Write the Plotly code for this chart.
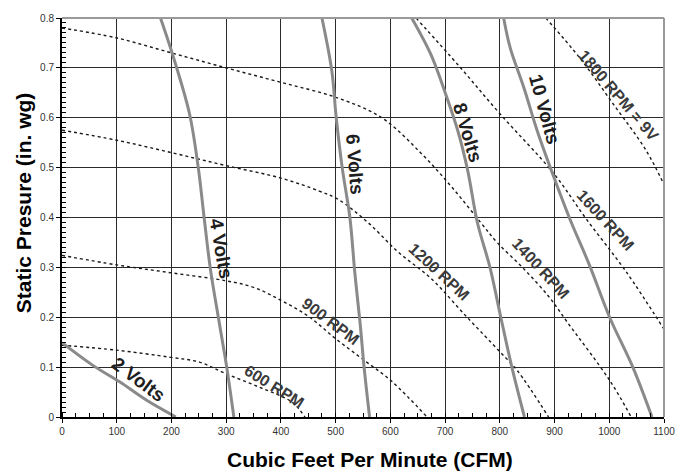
import plotly.graph_objects as go

# ---- data ----
rpm600_x = [0, 100, 196, 251, 299, 360, 420, 444]
rpm600_y = [0.144, 0.134, 0.12, 0.11, 0.087, 0.06, 0.03, 0.0]

rpm900_x = [0, 100, 200, 300, 350, 400, 450, 500, 553, 602, 667]
rpm900_y = [0.324, 0.305, 0.289, 0.273, 0.26, 0.234, 0.202, 0.157, 0.113, 0.072, 0.0]

rpm1200_x = [0, 100, 200, 300, 400, 470, 505, 559, 614, 674, 741, 800, 832, 889]
rpm1200_y = [0.575, 0.555, 0.53, 0.504, 0.479, 0.453, 0.436, 0.39, 0.331, 0.278, 0.199, 0.131, 0.093, 0.0]

rpm1400_x = [0, 100, 200, 300, 400, 500, 583, 656, 713, 765, 795, 843, 892, 922, 1001, 1040]
rpm1400_y = [0.78, 0.76, 0.73, 0.70, 0.671, 0.641, 0.601, 0.529, 0.46, 0.39, 0.35, 0.298, 0.238, 0.192, 0.073, 0.0]

rpm1600_x = [647, 726, 801, 898, 958, 1031, 1100]
rpm1600_y = [0.8, 0.703, 0.607, 0.489, 0.397, 0.291, 0.176]

rpm1800_x = [884, 946, 1007, 1067, 1100]
rpm1800_y = [0.8, 0.72, 0.628, 0.535, 0.466]

v2_x = [0, 57, 106, 154, 208]
v2_y = [0.149, 0.103, 0.07, 0.034, 0.0]

v4_x = [180, 202, 233, 249, 260, 271, 288, 301, 314]
v4_y = [0.8, 0.727, 0.608, 0.5, 0.397, 0.298, 0.185, 0.1, 0.0]

v6_x = [475, 493, 501, 512, 526, 535, 545, 552, 562]
v6_y = [0.8, 0.694, 0.601, 0.5, 0.4, 0.29, 0.185, 0.1, 0.0]

v8_x = [639, 674, 699, 723, 741, 759, 782, 802, 822, 845]
v8_y = [0.8, 0.727, 0.654, 0.575, 0.496, 0.39, 0.3, 0.199, 0.1, 0.0]

v10_x = [807, 819, 844, 868, 898, 928, 964, 1001, 1043, 1078]
v10_y = [0.8, 0.74, 0.66, 0.575, 0.483, 0.397, 0.304, 0.199, 0.1, 0.0]

x_ticks = [0, 100, 200, 300, 400, 500, 600, 700, 800, 900, 1000, 1100]
y_ticks = [0, 0.1, 0.2, 0.3, 0.4, 0.5, 0.6, 0.7, 0.8]

rpm_series = [(rpm600_x, rpm600_y), (rpm900_x, rpm900_y), (rpm1200_x, rpm1200_y),
              (rpm1400_x, rpm1400_y), (rpm1600_x, rpm1600_y), (rpm1800_x, rpm1800_y)]
volt_series = [(v2_x, v2_y), (v4_x, v4_y), (v6_x, v6_y), (v8_x, v8_y), (v10_x, v10_y)]

# label text, anchor (data coords), rotation, kind
labels = [
    ("2 Volts", 140, 0.075, 36.6, "v"),
    ("4 Volts", 290, 0.337, 80, "v"),
    ("6 Volts", 535, 0.506, 85.6, "v"),
    ("8 Volts", 741, 0.570, 73.4, "v"),
    ("10 Volts", 881, 0.618, 74.7, "v"),
    ("1800 RPM = 9V", 1017, 0.645, 49.4, "r"),
    ("1600 RPM", 993, 0.393, 47.4, "r"),
    ("1400 RPM", 875, 0.298, 47.4, "r"),
    ("1200 RPM", 688, 0.291, 42.6, "r"),
    ("900 RPM", 491, 0.191, 37, "r"),
    ("600 RPM", 388, 0.062, 32, "r"),
]

FONT = "Liberation Sans, Arial, sans-serif"

fig = go.Figure()
for xs, ys in rpm_series:
    fig.add_trace(go.Scatter(x=xs, y=ys, mode="lines", line_shape="spline",
                             line=dict(color="#1a1a1a", width=1.4, dash="dot"),
                             showlegend=False, hoverinfo="skip"))
for xs, ys in volt_series:
    fig.add_trace(go.Scatter(x=xs, y=ys, mode="lines", line_shape="spline",
                             line=dict(color="#8a8a8a", width=3),
                             showlegend=False, hoverinfo="skip"))

anns = []
for text, ax, ay, ang, kind in labels:
    anns.append(dict(x=ax, y=ay, xref="x", yref="y", text="<b>%s</b>" % text,
                     showarrow=False, textangle=ang,
                     font=dict(family=FONT, size=19 if kind == "v" else 16,
                               color="#1e1e1e" if kind == "v" else "#3a3a3a"),
                     xanchor="center", yanchor="middle"))
anns.append(dict(x=0.511, y=-0.106, xref="paper", yref="paper",
                 text="<b>Cubic Feet Per Minute (CFM)</b>", showarrow=False,
                 font=dict(family=FONT, size=21, color="#000"),
                 xanchor="center", yanchor="middle"))
anns.append(dict(x=-0.064, y=0.537, xref="paper", yref="paper",
                 text="<b>Static Presure (in. wg)</b>", showarrow=False, textangle=-90,
                 font=dict(family=FONT, size=21, color="#000"),
                 xanchor="center", yanchor="middle"))

fig.update_layout(
    width=687, height=475,
    margin=dict(l=62, r=19, t=13, b=58),
    paper_bgcolor="white", plot_bgcolor="white",
    annotations=anns,
    shapes=[
        dict(type="line", xref="paper", yref="paper", x0=0, x1=1, y0=1, y1=1,
             line=dict(color="#9a9a9a", width=2)),
        dict(type="line", xref="paper", yref="paper", x0=1, x1=1, y0=0, y1=1,
             line=dict(color="#9a9a9a", width=2)),
    ],
    xaxis=dict(range=[0, 1100], tickvals=x_ticks, ticktext=[str(v) for v in x_ticks],
               showgrid=True, gridcolor="#2a2a2a", gridwidth=1,
               showline=True, linecolor="#000", linewidth=2,
               ticks="outside", ticklen=4, tickcolor="#000",
               tickfont=dict(family=FONT, size=10, color="#333"),
               minor=dict(dtick=25, ticks="inside", ticklen=4, tickcolor="#000", showgrid=False),
               zeroline=False, fixedrange=True),
    yaxis=dict(range=[0, 0.8], tickvals=y_ticks, ticktext=["0"] + [str(v) for v in y_ticks[1:]],
               showgrid=True, gridcolor="#2a2a2a", gridwidth=1,
               showline=True, linecolor="#000", linewidth=2,
               ticks="outside", ticklen=4, tickcolor="#000",
               tickfont=dict(family=FONT, size=10, color="#333"),
               minor=dict(dtick=0.01, ticks="inside", ticklen=4, tickcolor="#000", showgrid=False),
               zeroline=False, fixedrange=True),
)

fig.write_html("out.html")
